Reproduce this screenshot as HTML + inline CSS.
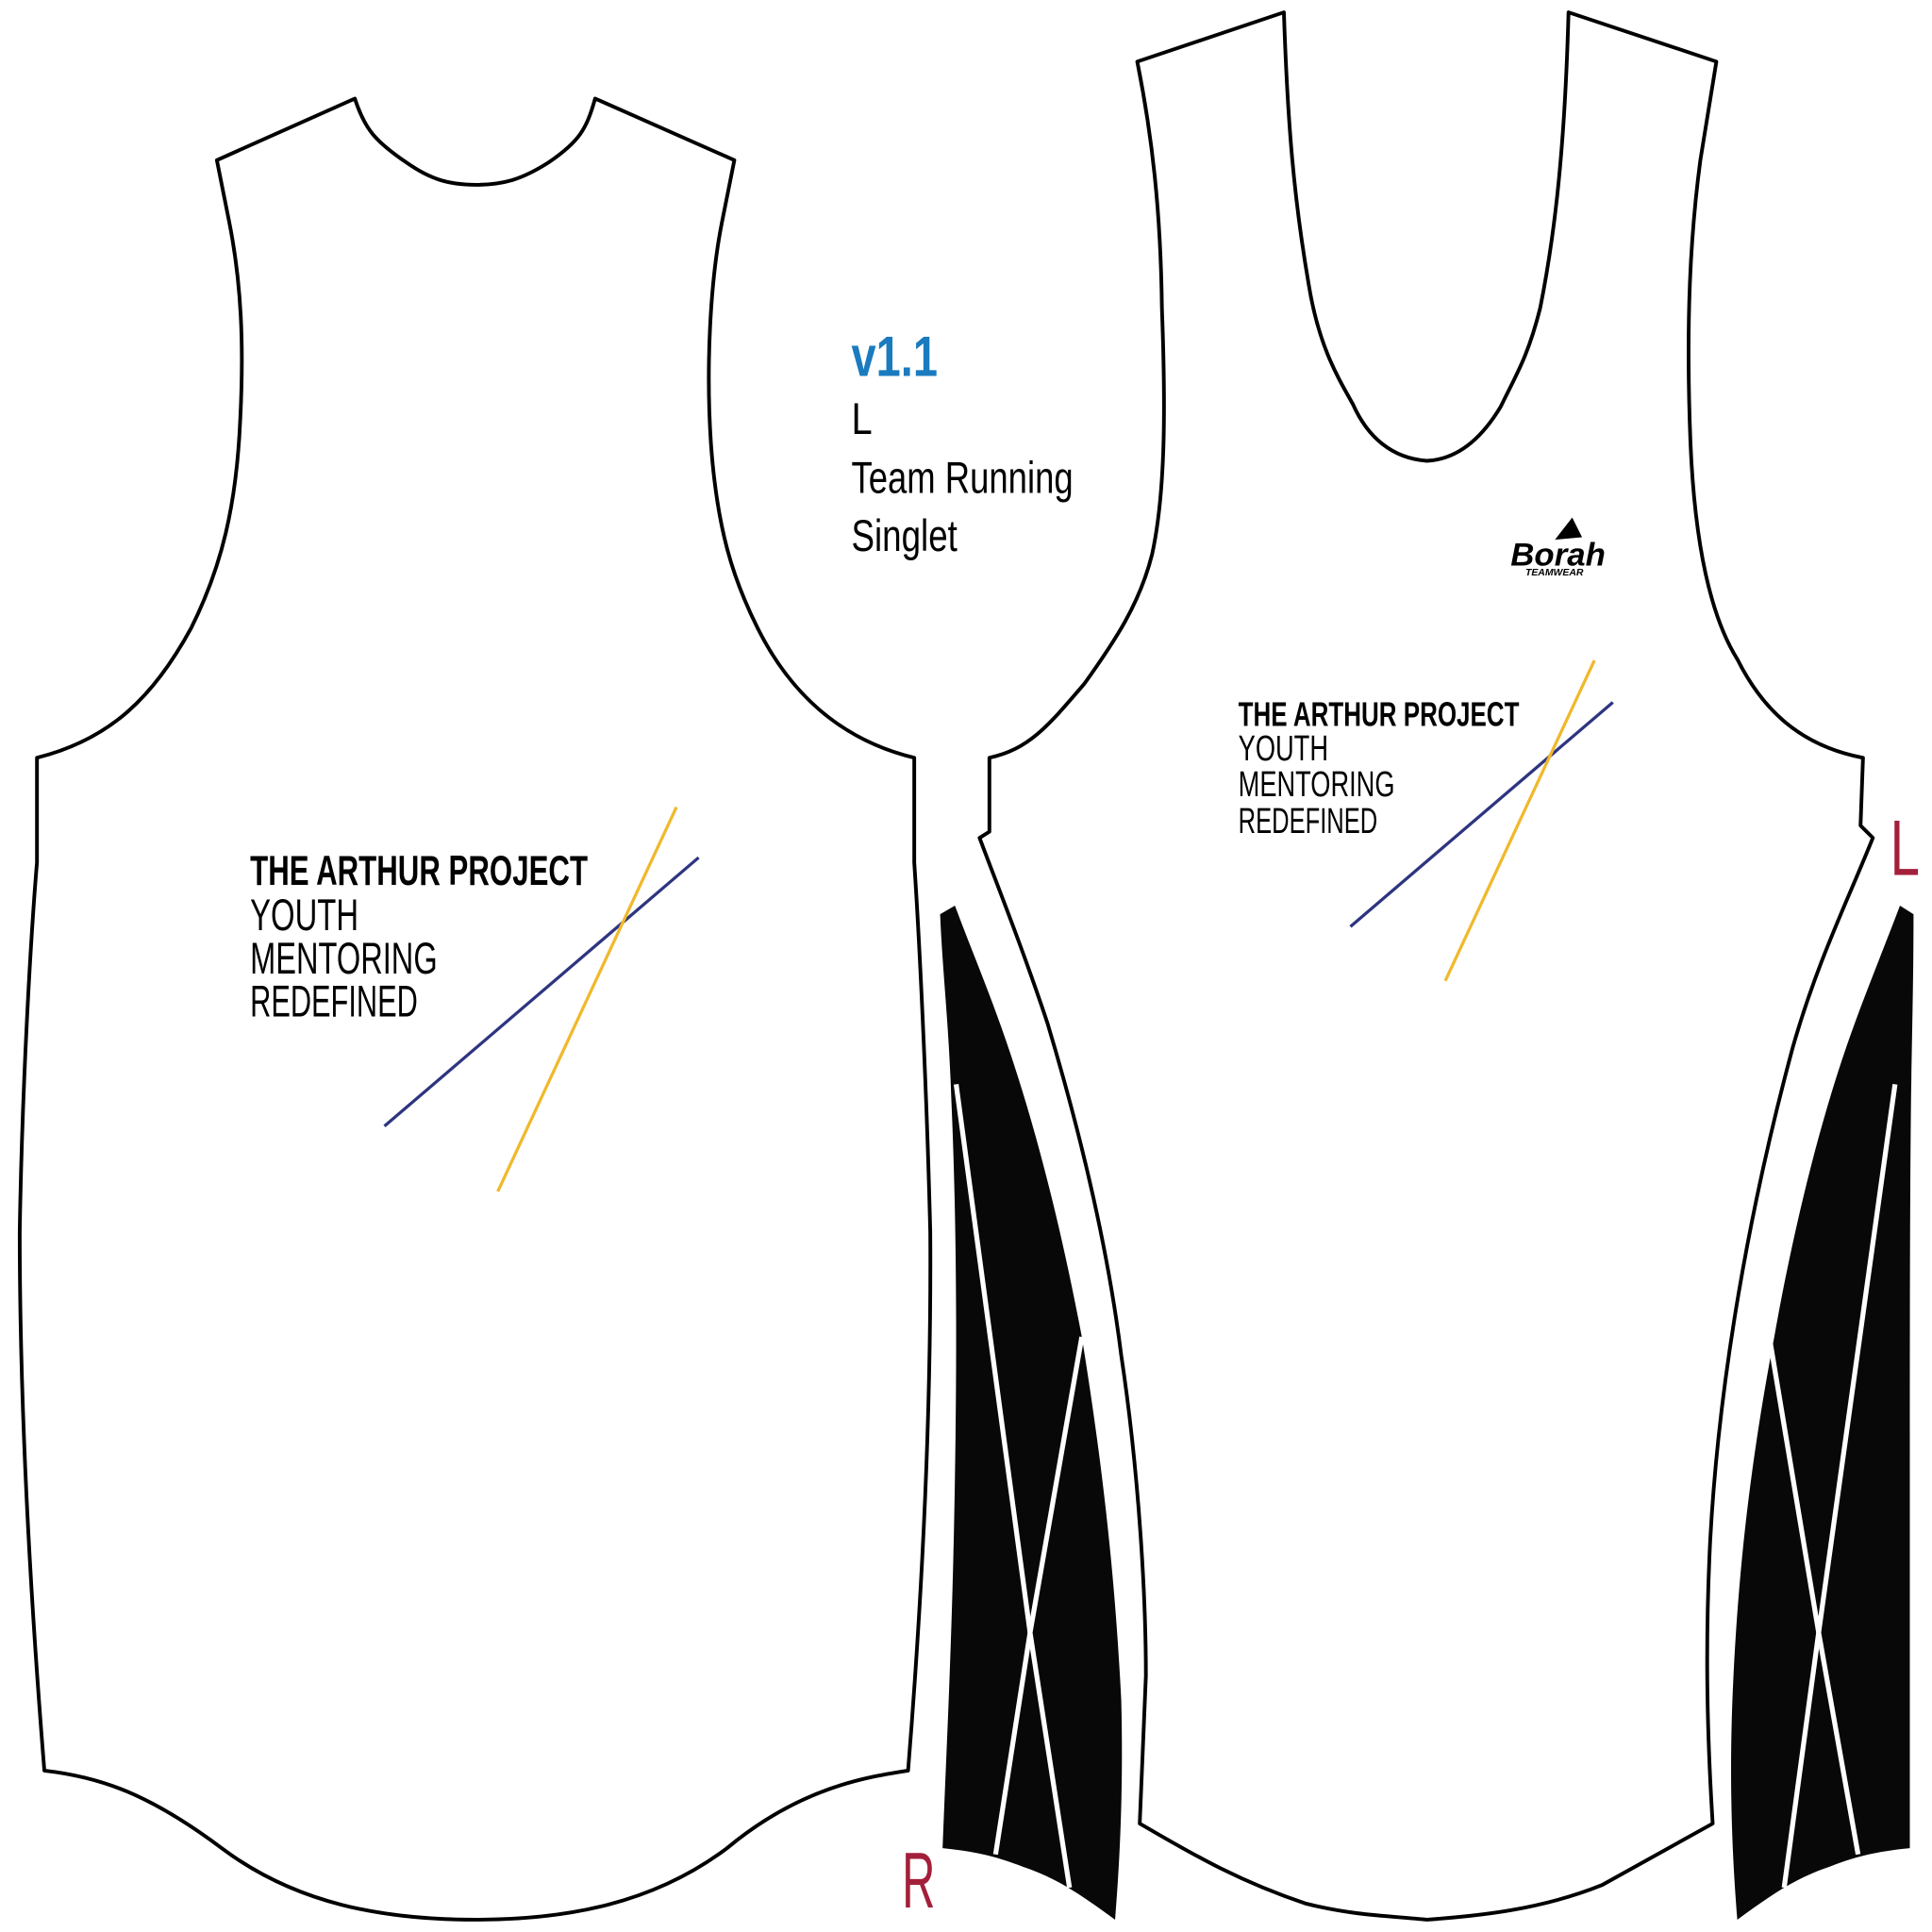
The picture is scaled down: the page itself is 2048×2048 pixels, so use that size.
<!DOCTYPE html>
<html><head><style>html,body{margin:0;padding:0;background:#fff;}svg{display:block;}</style></head>
<body>
<svg width="2048" height="2048" viewBox="0 0 1568 1568" xmlns="http://www.w3.org/2000/svg">
<rect width="1568" height="1568" fill="#fff"/>
<g fill="none" stroke="#000" stroke-width="3" stroke-linejoin="round">
<path d="M288,80 C296,105 305,115 330,132 C350,146 365,150 386,150 C408,150 423,146 445,132 C470,115 476,105 483,80 L596,130 L586,180 C576,230 573,300 577,360 C582,430 595,470 615,510 C640,560 680,600 742,615 L742,700 C746,760 752,880 755,1000 C756,1150 748,1300 737,1437 C705,1442 650,1450 590,1500 C530,1545 460,1558 386,1558 C310,1558 240,1545 180,1500 C120,1455 80,1442 36,1437 C25,1300 16,1150 16,1000 C18,880 25,760 30,700 L30,615 C90,600 125,565 155,510 C180,460 192,410 195,340 C198,280 196,230 186,180 L176,130 Z"/>
<path d="M1042,10 L923,50 C935,110 942,170 943,250 C946,330 946,400 935,450 C925,490 905,520 880,555 C850,590 835,608 803,615 L803,675 L795,680 C810,720 830,770 850,830 C880,930 900,1020 910,1100 C925,1200 930,1300 930,1360 L925,1480 C960,1500 1000,1525 1060,1545 C1100,1555 1130,1555 1158,1558 C1200,1555 1250,1550 1300,1530 L1390,1480 C1385,1400 1384,1330 1388,1250 C1395,1120 1420,980 1455,850 C1475,780 1500,730 1520,680 L1510,670 L1512,615 C1460,605 1430,575 1410,535 C1385,495 1375,430 1372,360 C1368,260 1372,190 1380,130 L1393,50 L1273,10 C1270,120 1262,190 1250,250 C1240,290 1230,305 1218,330 C1200,360 1180,373 1158,374 C1130,372 1110,355 1098,328 C1085,305 1070,280 1062,230 C1050,160 1045,100 1042,10 Z"/>
</g>
<path d="M763,742 L775,735 C790,775 805,810 820,855 C840,915 860,990 878,1085 C895,1190 905,1280 910,1380 C912,1460 908,1520 905,1558 C880,1540 860,1525 830,1515 C805,1505 785,1502 765,1500 C768,1420 773,1330 775,1200 C777,1080 776,980 772,890 C770,830 765,790 763,742 Z" fill="#080808"/>
<path d="M1553,742 L1542,735 C1525,780 1510,815 1495,860 C1475,920 1455,1000 1440,1085 C1420,1190 1410,1280 1406,1380 C1403,1460 1407,1520 1410,1558 C1435,1540 1455,1525 1485,1515 C1510,1505 1530,1502 1550,1500 C1550,1420 1550,1330 1550,1200 C1550,1080 1550,980 1551,890 C1552,830 1553,790 1553,742 Z" fill="#080808"/>
<g stroke="#fff" stroke-width="4" fill="none">
<polyline points="776,880 836,1325 808,1505"/>
<polyline points="878,1085 836,1325 868,1532"/>
<polyline points="1538,880 1476,1325 1448,1532"/>
<polyline points="1436,1085 1476,1325 1508,1505"/>
</g>
<g stroke-width="2.5">
<line x1="312" y1="914" x2="567" y2="696" stroke="#2d3580"/>
<line x1="404" y1="967" x2="549" y2="655" stroke="#f0b92c"/>
<line x1="1096" y1="752" x2="1309" y2="570" stroke="#2d3580"/>
<line x1="1173" y1="796" x2="1294" y2="536" stroke="#f0b92c"/>
</g>
<g font-family="'Liberation Sans', sans-serif">
<text x="691" y="305" font-size="46" font-weight="bold" fill="#1a7bbf" textLength="70" lengthAdjust="spacingAndGlyphs">v1.1</text>
<text x="691" y="352" font-size="36" fill="#000" textLength="17" lengthAdjust="spacingAndGlyphs">L</text>
<text x="691" y="400" font-size="36" fill="#000" textLength="180" lengthAdjust="spacingAndGlyphs">Team Running</text>
<text x="691" y="447" font-size="36" fill="#000" textLength="86" lengthAdjust="spacingAndGlyphs">Singlet</text>
<text x="203" y="718" font-size="34" font-weight="bold" textLength="274" lengthAdjust="spacingAndGlyphs">THE ARTHUR PROJECT</text>
<text x="203" y="755" font-size="36" textLength="88" lengthAdjust="spacingAndGlyphs">YOUTH</text>
<text x="203" y="790" font-size="36" textLength="152" lengthAdjust="spacingAndGlyphs">MENTORING</text>
<text x="203" y="825" font-size="36" textLength="136" lengthAdjust="spacingAndGlyphs">REDEFINED</text>
<text x="1005" y="589" font-size="28" font-weight="bold" textLength="228" lengthAdjust="spacingAndGlyphs">THE ARTHUR PROJECT</text>
<text x="1005" y="617" font-size="29" textLength="73" lengthAdjust="spacingAndGlyphs">YOUTH</text>
<text x="1005" y="646" font-size="29" textLength="127" lengthAdjust="spacingAndGlyphs">MENTORING</text>
<text x="1005" y="676" font-size="29" textLength="113" lengthAdjust="spacingAndGlyphs">REDEFINED</text>
<text x="1226" y="459" font-size="26" font-weight="bold" font-style="italic" textLength="77" lengthAdjust="spacingAndGlyphs">Borah</text>
<text x="1238" y="467" font-size="8" font-weight="bold" font-style="italic">TEAMWEAR</text>
<text x="1534" y="710" font-size="64" fill="#a3203a" textLength="24" lengthAdjust="spacingAndGlyphs">L</text>
<text x="732" y="1548" font-size="64" fill="#a3203a" textLength="27" lengthAdjust="spacingAndGlyphs">R</text>
</g>
<path d="M1262,438 L1276,420 L1284,436 Z" fill="#000"/>
</svg>
</body></html>
